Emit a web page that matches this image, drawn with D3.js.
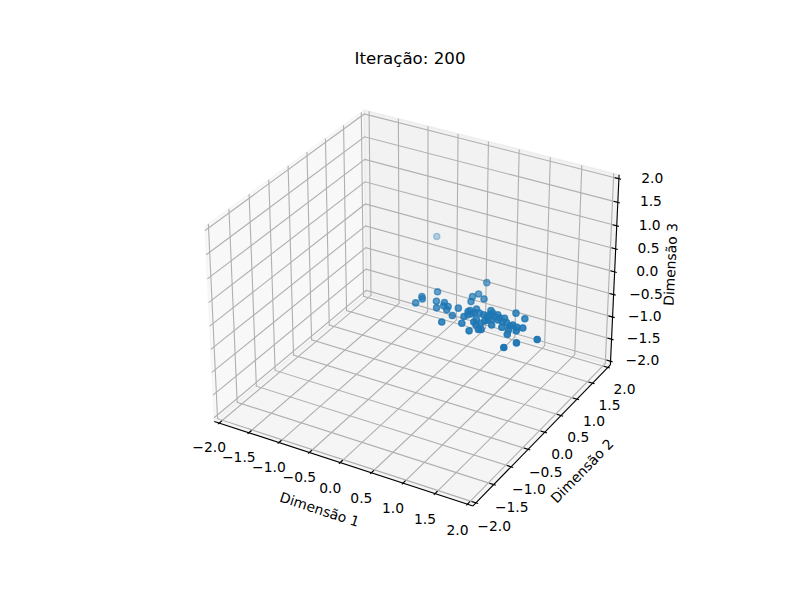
<!DOCTYPE html>
<html><head><meta charset="utf-8">
<style>html,body{margin:0;padding:0;background:#fff}svg{display:block}text{font-family:"DejaVu Sans";fill:#000}</style>
<script src="https://cdn.jsdelivr.net/npm/d3@7"></script></head><body><svg id="c" width="800" height="600"></svg>
<script>
const titleText="Iteração: 200";
const labelX="Dimensão 1", labelY="Dimensão 2", labelZ="Dimensão 3";
const tickValues=[-2,-1.5,-1,-0.5,0,0.5,1,1.5,2];
const tickLabels=["−2.0","−1.5","−1.0","−0.5","0.0","0.5","1.0","1.5","2.0"];
const dim1=[0.646,0.169,0.046,0.083,0.058,0.286,0.380,0.402,0.438,0.501,0.530,0.674,0.647,0.633,0.663,0.712,0.701,0.834,0.891,0.828,0.810,0.821,0.851,0.880,0.900,0.968,1.017,1.011,1.118,1.083,1.077,1.169,1.202,1.040,1.104,1.073,1.111,1.127,1.195,1.202,1.271,1.212,1.281,1.337,1.357,1.419,1.422,1.529,1.575,1.524,1.603,1.639,1.680,1.409,1.589,1.995,1.792,1.700,-0.647,0.882,1.135,1.504,1.274,1.157];
const dim2=[0.894,0.317,0.087,0.035,-0.109,0.078,-0.082,0.101,0.016,0.031,-0.059,-0.157,0.063,-0.383,0.443,0.311,0.551,0.468,-0.276,-0.102,0.049,0.087,-0.033,0.166,0.068,0.089,-0.161,-0.078,-0.145,-0.220,-0.405,-0.307,-0.288,0.075,0.057,0.232,0.117,0.181,0.111,0.008,-0.112,0.175,0.054,0.142,0.044,0.048,-0.096,-0.099,-0.223,0.035,0.007,-0.081,0.034,0.343,0.267,-0.141,-0.363,-0.556,1.732,0.016,-0.062,-0.008,0.114,-0.017];
const dim3=dim1.map(()=>0);

const svg=d3.select("#c");
const BOX=[4/3.5,4/3.5,3/3.5], DIST=10, EL=30*Math.PI/180, AZ=-60*Math.PI/180;
const bx=d3.scaleLinear([-2,2],[-BOX[0]/2,BOX[0]/2]);
const by=d3.scaleLinear([-2,2],[-BOX[1]/2,BOX[1]/2]);
const bz=d3.scaleLinear([-2,2],[-BOX[2]/2,BOX[2]/2]);
const sx=d3.scaleLinear([-0.0964,0.0916],[176,644]);
const sy=d3.scaleLinear([-0.0946,0.0934],[534,66]);
const w=[Math.cos(EL)*Math.cos(AZ),Math.cos(EL)*Math.sin(AZ),Math.sin(EL)];
const un=Math.hypot(w[1],w[0]);
const u=[-w[1]/un,w[0]/un,0];
const v=[w[1]*u[2]-w[2]*u[1],w[2]*u[0]-w[0]*u[2],w[0]*u[1]-w[1]*u[0]];
const dot=(a,b)=>a[0]*b[0]+a[1]*b[1]+a[2]*b[2];
function proj(x,y,z){const p=[bx(x),by(y),bz(z)];const d=dot(w,p);const k=DIST-d;
  return {px:sx(dot(u,p)/k),py:sy(dot(v,p)/k),d};}
const line=d3.line().x(d=>proj(...d).px).y(d=>proj(...d).py);
const LO=-2-4/48, HI=2+4/48;
const GRID="#b0b0b0", LW=1.11;
const panes=[
 {pts:[[LO,LO,LO],[LO,HI,LO],[LO,HI,HI],[LO,LO,HI]],c:"rgba(242,242,242,0.5)"},
 {pts:[[LO,HI,LO],[HI,HI,LO],[HI,HI,HI],[LO,HI,HI]],c:"rgba(230,230,230,0.5)"},
 {pts:[[LO,LO,LO],[HI,LO,LO],[HI,HI,LO],[LO,HI,LO]],c:"rgba(236,236,236,0.5)"}];
svg.append("g").selectAll("path").data(panes).join("path")
  .attr("d",d=>line(d.pts)+"Z").attr("fill",d=>d.c).attr("stroke",d=>d.c).attr("stroke-width",1.39);
const gridPaths=[];
tickValues.forEach(t=>{
  gridPaths.push([[t,LO,LO],[t,HI,LO],[t,HI,HI]]);
  gridPaths.push([[HI,t,LO],[LO,t,LO],[LO,t,HI]]);
  gridPaths.push([[LO,LO,t],[LO,HI,t],[HI,HI,t]]);
});
svg.append("g").selectAll("path").data(gridPaths).join("path").attr("d",line)
  .attr("fill","none").attr("stroke",GRID).attr("stroke-width",LW);
const axesLines=[[[LO,LO,LO],[HI,LO,LO]],[[HI,LO,LO],[HI,HI,LO]],[[HI,HI,LO],[HI,HI,HI]]];
svg.append("g").selectAll("path").data(axesLines).join("path").attr("d",line)
  .attr("fill","none").attr("stroke","#000").attr("stroke-width",LW);
const OUT=0.0333, IN=0.0667;
const tickSegs=[];
tickValues.forEach(t=>{
  tickSegs.push([[t,LO+IN,LO],[t,LO-OUT,LO]]);
  tickSegs.push([[HI-IN,t,LO],[HI+OUT,t,LO]]);
  tickSegs.push([[HI-IN,HI,t],[HI+OUT,HI,t]]);
});
svg.append("g").selectAll("path").data(tickSegs).join("path").attr("d",line)
  .attr("fill","none").attr("stroke","#000").attr("stroke-width",LW);
const labs=[];
tickValues.forEach((t,i)=>{
  labs.push({p:proj(t,LO-0.27,LO-0.34),s:tickLabels[i]});
  labs.push({p:proj(HI+0.283,t,LO-0.37),s:tickLabels[i]});
  labs.push({p:proj(HI+0.392,HI+0.259,t),s:tickLabels[i]});
});
svg.append("g").selectAll("text").data(labs).join("text")
  .attr("x",d=>d.p.px).attr("y",d=>d.p.py).attr("text-anchor","middle").attr("dominant-baseline","central")
  .attr("font-size",13.89).text(d=>d.s);
const M=0.6;
const axisLabs=[
 {s:labelX,c:proj(0,LO-M+0.05,LO-M),a:proj(LO,LO,LO),b:proj(HI,LO,LO)},
 {s:labelY,c:proj(HI+M,0,LO-M),a:proj(HI,LO,LO),b:proj(HI,HI,LO)},
 {s:labelZ,c:proj(HI+M,HI+M,0),a:proj(HI,HI,HI),b:proj(HI,HI,LO)}];
svg.append("g").selectAll("text").data(axisLabs).join("text")
  .attr("transform",d=>{let a=Math.atan2(d.b.py-d.a.py,d.b.px-d.a.px)*180/Math.PI; if(a>90)a-=180; if(a<-90)a+=180; return `translate(${d.c.px},${d.c.py}) rotate(${a})`;})
  .attr("text-anchor","middle").attr("dominant-baseline","central").attr("font-size",13.89).text(d=>d.s);
const pts=dim1.map((x,i)=>proj(x,dim2[i],dim3[i])).sort((a,b)=>a.d-b.d);
const [dmin,dmax]=d3.extent(pts,d=>d.d);
const alpha=d3.scaleLinear([dmin,dmax],[0.3,1]);
svg.append("g").selectAll("circle").data(pts).join("circle")
  .attr("cx",d=>d.px).attr("cy",d=>d.py).attr("r",3.1)
  .attr("fill","#1f77b4").attr("fill-opacity",d=>alpha(d.d))
  .attr("stroke","#1f77b4").attr("stroke-opacity",d=>alpha(d.d)).attr("stroke-width",1.39);
svg.append("text").attr("x",410).attr("y",64).attr("text-anchor","middle").attr("font-size",16.67).text(titleText);
</script></body></html>
